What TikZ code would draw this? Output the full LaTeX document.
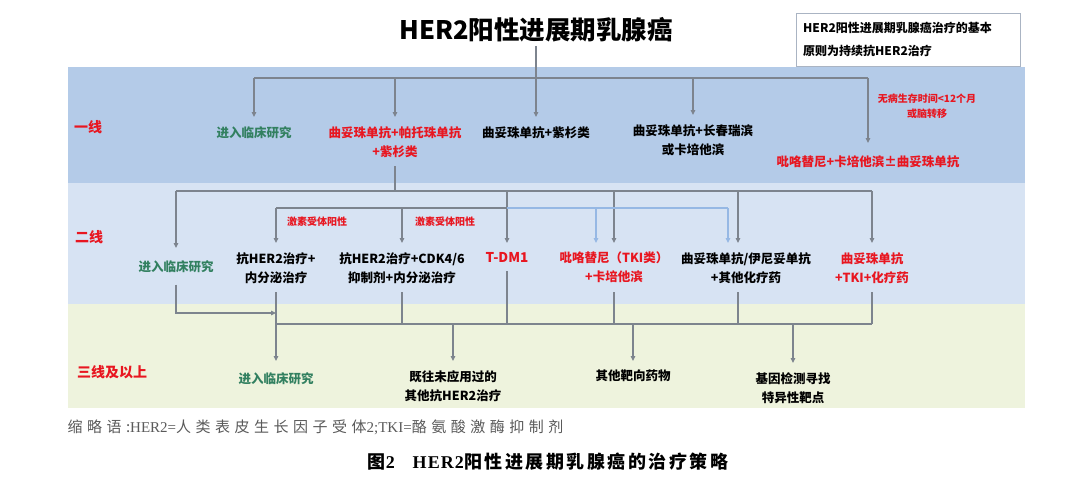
\documentclass[tikz,border=0pt]{standalone}
\usepackage{fontspec}
\setmainfont{Noto Sans CJK SC}
\newfontfamily\capcjk[LetterSpace=30]{Noto Sans CJK SC}
\newfontfamily\capser{Liberation Serif}
\newfontfamily\titcjk[LetterSpace=14]{Noto Sans CJK SC}
\newfontfamily\titser[LetterSpace=6]{Liberation Serif}
\usetikzlibrary{arrows.meta}
\definecolor{bandA}{RGB}{180,203,232}
\definecolor{bandB}{RGB}{215,227,243}
\definecolor{bandC}{RGB}{238,243,221}
\definecolor{lnc}{RGB}{125,132,142}
\definecolor{bluel}{RGB}{150,184,228}
\definecolor{redt}{RGB}{232,22,32}
\definecolor{greent}{RGB}{50,128,96}
\definecolor{capgray}{RGB}{90,90,90}
\definecolor{notedraw}{RGB}{170,180,195}

\begin{document}
\begin{tikzpicture}[x=1pt,y=-1pt,>={Triangle[length=5pt,width=4.5pt]},
    line/.style={draw=lnc,line width=1.1pt},
    blueline/.style={draw=bluel,line width=1.1pt},
    txt/.style={font=\bfseries\fontsize{12.5}{19}\selectfont,align=center,
      inner xsep=2pt,inner ysep=9pt,anchor=north},
    small/.style={font=\bfseries\fontsize{10}{15}\selectfont,align=center,text=redt},
    lvl/.style={font=\bfseries\fontsize{14}{14}\selectfont,text=redt},
    notebox/.style={draw=notedraw,fill=white,align=left,text width=210pt,
      inner xsep=7pt,minimum height=53pt,font=\bfseries\fontsize{12}{23}\selectfont}]
    \useasboundingbox (0,0) rectangle (1080,482);
    % bands
    \fill[white] (0,0) rectangle (1080,482);
    \fill[bandA] (68,67) rectangle (1025,183);
    \fill[bandB] (68,183) rectangle (1025,304);
    \fill[bandC] (68,304) rectangle (1025,408);

    \node[font=\bfseries\fontsize{25.5}{25}\selectfont] (title) at (536,30) {HER2阳性进展期乳腺癌};
    \node[notebox,anchor=north west] (note) at (796,13) {HER2阳性进展期乳腺癌治疗的基本\\原则为持续抗HER2治疗};

    \node[lvl] (l1) at (88,127) {一线};
    \node[lvl] (l2) at (89,237) {二线};
    \node[lvl] (l3) at (112,372) {三线及以上};

    % first line
    \coordinate (j1) at (536,78);
    \node[txt,text=greent] (ct1) at (254,117) {进入临床研究};
    \node[txt,text=redt] (tph) at (395,117) {曲妥珠单抗+帕托珠单抗\\+紫杉类};
    \node[txt] (tt) at (536,117) {曲妥珠单抗+紫杉类};
    \node[txt] (tvc) at (693,115) {曲妥珠单抗+长春瑞滨\\或卡培他滨};
    \node[txt,text=redt,inner ysep=12pt] (pcx) at (868,143) {吡咯替尼+卡培他滨±曲妥珠单抗};
    \node[small] (dfs) at (927,106) {无病生存时间<12个月\\或脑转移};

    \draw[line,->] (title.south) -- (tt.north);
    \draw[line] (ct1.north |- j1) -- (pcx.north |- j1);
    \foreach \n in {ct1,tph,tvc,pcx}
      \draw[line,->] (\n.north |- j1) -- (\n.north);

    % second line
    \coordinate (j2) at (395,191);
    \coordinate (j3) at (507,208);
    \node[txt,text=greent,inner ysep=12pt] (ct2) at (176,248) {进入临床研究};
    \node[txt] (ah) at (276,243) {抗HER2治疗+\\内分泌治疗};
    \node[txt] (cdk) at (402,243) {抗HER2治疗+CDK4/6\\抑制剂+内分泌治疗};
    \node[txt,text=redt,font=\bfseries\fontsize{13.5}{19}\selectfont] (tdm) at (507,243) {T-DM1};
    \node[txt,text=redt] (pyr) at (614,243) {吡咯替尼（TKI类）\\+卡培他滨};
    \node[txt] (tzo) at (746,243) {曲妥珠单抗/伊尼妥单抗\\+其他化疗药};
    \node[txt,text=redt] (tkc) at (872,243) {曲妥珠单抗\\+TKI+化疗药};
    \node[small] (hr1) at (317,222) {激素受体阳性};
    \node[small] (hr2) at (445,222) {激素受体阳性};
    \coordinate (pyrb) at ([xshift=-18pt]pyr.north);
    \coordinate (tzog) at ([xshift=-8pt]tzo.north);
    \coordinate (tzob) at ([xshift=-18pt]tzo.north);

    \draw[line] (tph.south) -- (j2);
    \draw[line] (ct2.north |- j2) -- (tkc.north |- j2);
    \foreach \n in {ct2,tdm,pyr,tkc}
      \draw[line,->] (\n.north |- j2) -- (\n.north);
    \draw[line,->] (tzog |- j2) -- (tzog);
    \draw[line] (ah.north |- j3) -- (j3);
    \foreach \n in {ah,cdk}
      \draw[line,->] (\n.north |- j3) -- (\n.north);
    \draw[blueline] (j3) -- (tzob |- j3);
    \draw[blueline,->] (pyrb |- j3) -- (pyrb);
    \draw[blueline,->] (tzob |- j3) -- (tzob);

    % third line and beyond
    \coordinate (j4) at (276,324);
    \coordinate (j5) at (276,313);
    \node[txt,text=greent,inner ysep=11pt] (ct3) at (276,361) {进入临床研究};
    \node[txt] (ov) at (453,361) {既往未应用过的\\其他抗HER2治疗};
    \node[txt] (otg) at (633,361) {其他靶向药物};
    \node[txt] (gen) at (793,363) {基因检测寻找\\特异性靶点};

    \draw[line] (j4) -- (tkc.south |- j4);
    \foreach \n in {cdk,tdm,pyr,tkc}
      \draw[line] (\n.south) -- (\n.south |- j4);
    \draw[line] (tzog |- tzo.south) -- (tzog |- j4);
    \draw[line,->] (ah.south) -- (ct3.north);
    \draw[line,->] (ct2.south) |- (j5);
    \foreach \n in {ov,otg,gen}
      \draw[line,->] (\n.north |- j4) -- (\n.north);

    % caption
    \node[anchor=west,text=capgray,font=\capcjk\fontsize{15}{15}\selectfont] (abbr) at (64,427)
      {缩略语:{\capser HER2=}人类表皮生长因子受体{\capser 2;TKI=}酪氨酸激酶抑制剂};
    \node[font=\titcjk\bfseries\fontsize{18}{18}\selectfont] (cap) at (548,462)
      {图{\titser 2}\quad{\titser HER2}阳性进展期乳腺癌的治疗策略};
\end{tikzpicture}
\end{document}
